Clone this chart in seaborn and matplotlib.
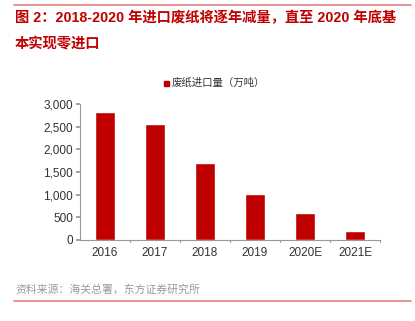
import matplotlib
matplotlib.use("Agg")
import matplotlib.pyplot as plt
import seaborn as sns
import pandas as pd
from matplotlib.lines import Line2D

categories = ["2016", "2017", "2018", "2019", "2020E", "2021E"]
values = [2830, 2560, 1690, 1020, 590, 190]
series_name = "废纸进口量（万吨）"
yticks = [0, 500, 1000, 1500, 2000, 2500, 3000]
ytick_labels = ["0", "500", "1,000", "1,500", "2,000", "2,500", "3,000"]
title_line1 = "图 2：2018-2020 年进口废纸将逐年减量，直至 2020 年底基"
title_line2 = "本实现零进口"
source_text = "资料来源：海关总署，东方证券研究所"

sns.set_theme(style="white")
plt.rcParams['font.family'] = ['Liberation Sans', 'Noto Sans CJK SC', 'DejaVu Sans']

red = "#C00000"
fig = plt.figure(figsize=(4.15, 3.21), dpi=100)
W, H = 415, 321
ax = fig.add_axes([80 / W, 1 - 240 / H, 300 / W, (240 - 104) / H])

df = pd.DataFrame({"cat": categories, "val": values})
sns.barplot(data=df, x="cat", y="val", color=red, width=0.4, ax=ax, saturation=1)

ax.set_ylim(0, 3000)
ax.set_xlim(-0.5, 5.5)
ax.set_yticks(yticks)
ax.set_yticklabels(ytick_labels)
ax.set_xlabel("")
ax.set_ylabel("")
for s in ["top", "right"]:
    ax.spines[s].set_visible(False)
for s in ["left", "bottom"]:
    ax.spines[s].set_color("#999999")
    ax.spines[s].set_linewidth(0.8)
ax.tick_params(axis="y", length=3, color="#999999", labelsize=8.5, labelcolor="#333333", pad=2, left=True, direction="out")
ax.tick_params(axis="x", length=0, labelsize=8.5, labelcolor="#333333", pad=5)
for xb in [0.5, 1.5, 2.5, 3.5, 4.5, 5.5]:
    ax.plot([xb, xb], [0, -45], color="#999999", lw=0.8, clip_on=False)

# legend
fig.patches.append(plt.Rectangle((164 / W, 1 - 86 / H), 5 / W, 5 / H, transform=fig.transFigure, color=red))
fig.text(172 / W, 1 - 83 / H, series_name, fontsize=7.5, color="#333333", va="center", ha="left",
         family=['Noto Sans CJK SC', 'DejaVu Sans'])

# title
fig.add_artist(Line2D([14 / W, 411 / W], [1 - 5 / H, 1 - 5 / H], color="#E08080", lw=1.2))
fig.text(15 / W, 1 - 18 / H, title_line1, fontsize=10.3, color=red, fontweight="bold", va="center", ha="left")
fig.text(15 / W, 1 - 44 / H, title_line2, fontsize=10.3, color=red, fontweight="bold", va="center", ha="left")

# source
fig.text(15 / W, 1 - 290 / H, source_text, fontsize=7.8, color="#999999", va="center", ha="left",
         family=['Noto Sans CJK SC', 'DejaVu Sans'])
fig.add_artist(Line2D([14 / W, 411 / W], [1 - 301 / H, 1 - 301 / H], color="#E08080", lw=1.2))

fig.savefig("out.png", dpi=100)
